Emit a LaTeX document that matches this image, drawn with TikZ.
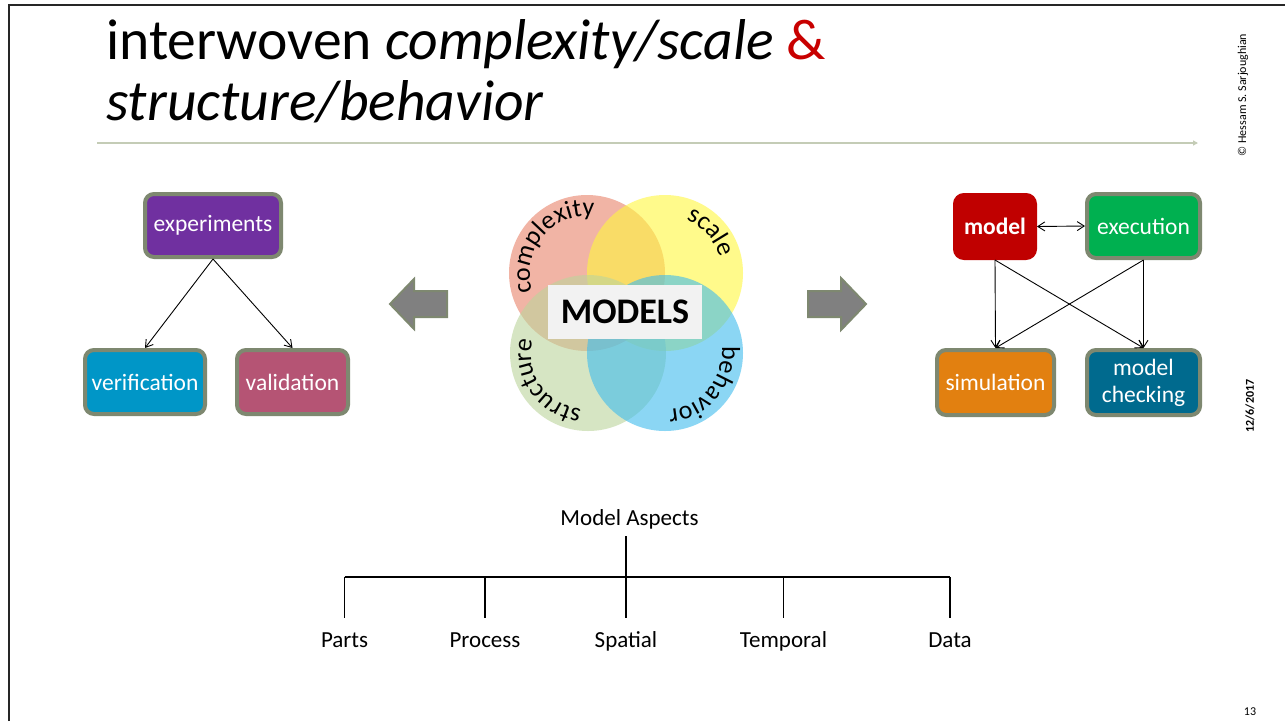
\documentclass[tikz,border=0pt]{standalone}
\usepackage{fontspec}
\setmainfont{Carlito}
\usetikzlibrary{arrows.meta,decorations.text,calc}
\definecolor{bordc}{RGB}{126,136,112}
\definecolor{ampred}{RGB}{200,0,0}
\definecolor{expc}{RGB}{112,48,160}
\definecolor{verc}{RGB}{0,150,199}
\definecolor{valc}{RGB}{181,84,116}
\definecolor{modc}{RGB}{192,0,0}
\definecolor{exec}{RGB}{0,176,80}
\definecolor{simc}{RGB}{226,128,16}
\definecolor{mcc}{RGB}{0,106,142}
\definecolor{blockc}{RGB}{128,128,128}
\definecolor{rulec}{RGB}{196,204,182}
\definecolor{vred}{RGB}{233,130,105}
\definecolor{vyel}{RGB}{255,247,63}
\definecolor{vgrn}{RGB}{188,213,155}
\definecolor{vblu}{RGB}{63,188,238}
\definecolor{boxgray}{RGB}{242,242,242}
\newcommand\vennfont{\fontsize{26}{26}\selectfont}
\begin{document}
\begin{tikzpicture}[x=1pt,y=-1pt,
  box/.style={draw=bordc, line width=4pt, rounded corners=9pt, text=white,
    font=\fontsize{23.5}{27}\selectfont, inner sep=0pt, align=center},
  conn/.style={line width=0.9pt, -{Straight Barb[length=7pt,width=9pt]}},
  dconn/.style={line width=0.9pt, {Straight Barb[length=7pt,width=9pt]}-{Straight Barb[length=7pt,width=9pt]}},
  venn/.style={circle, minimum size=156pt, inner sep=0pt, fill opacity=0.6},
  block/.style={fill=blockc, draw=bordc, line width=2pt, line join=miter},
  aspect/.style={anchor=base, font=\fontsize{23}{23}\selectfont, text height=16pt, text depth=5pt, inner xsep=2pt, inner ysep=13pt},
  tree/.style={line width=1.5pt, black},
  arctext/.style={decorate, decoration={text along path, text={|\vennfont|#1}, text align=center}}]
\useasboundingbox (0,0) rectangle (1285,721);
\fill[white] (0,0) rectangle (1285,721);
% frame
\coordinate (fa) at (9,721);
\coordinate (fb) at (9,5);
\coordinate (fc) at (1285,5);
\draw[line width=2.5pt, black!85] (fa) -- (fb) -- (fc);
% title
\node[anchor=base west, inner sep=0pt, font=\fontsize{57.6}{60}\selectfont] (t1) at (106,59)
  {interwoven \textit{complexity/scale} \textcolor{ampred}{\&}};
\node[anchor=base west, inner sep=0pt, font=\fontsize{57.6}{60}\selectfont] (t2) at (106,120)
  {\textit{structure/behavior}};
\coordinate (r1) at (97,143);
\coordinate (r2) at (1198,143);
\draw[rulec, line width=2pt, -{Triangle[length=5pt,width=5pt]}] (r1) -- (r2);
% side texts
\node[rotate=90, font=\fontsize{12}{12}\selectfont] (copy) at (1243,95) {© Hessam S. Sarjoughian};
\node[rotate=90, font=\fontsize{12}{12}\selectfont\bfseries] (date) at (1250,406) {12/6/2017};
\node[font=\fontsize{12}{12}\selectfont] (pnum) at (1250,712) {13};
% left group
\node[box, fill=expc, minimum width=136pt, minimum height=63pt] (exp) at (213,225.5) {experiments};
\node[box, fill=verc, minimum width=120pt, minimum height=64pt] (ver) at (145,382) {verification};
\node[box, fill=valc, minimum width=111pt, minimum height=64pt] (val) at (292.5,382) {validation};
\draw[conn] (exp.south) -- (ver.north);
\draw[conn] (exp.south) -- (val.north);
% block arrows
\filldraw[block] (390,304) -- (414,279) -- (414,291) -- (447,291) -- (447,317) -- (414,317) -- (414,329) -- cycle;
\filldraw[block] (866,304) -- (841,278) -- (841,291) -- (808,291) -- (808,317) -- (841,317) -- (841,330) -- cycle;
% venn
\node[venn, fill=vred] (cC) at (587,273) {};
\node[venn, fill=vyel] (cS) at (665,273) {};
\node[venn, fill=vgrn] (cT) at (588,353) {};
\node[venn, fill=vblu] (cB) at (665,353) {};
\path[arctext=complexity] (cC.center) ++(149:57) arc[start angle=149, end angle=289, radius=57];
\path[arctext=scale] (cS.center) ++(248:57) arc[start angle=248, end angle=388, radius=57];
\path[arctext=behavior] (cB.center) ++(-30:57) arc[start angle=-30, end angle=110, radius=57];
\path[arctext=structure] (cT.center) ++(75:57) arc[start angle=75, end angle=215, radius=57];
\node[fill=boxgray, minimum width=154pt, minimum height=54pt, inner sep=0pt,
  font=\fontsize{36}{36}\selectfont\bfseries] (models) at (625,312) {MODELS};
% right group
\node[box, draw=modc, fill=modc, minimum width=80pt, minimum height=63pt, font=\fontsize{23.5}{27}\selectfont\bfseries] (model) at (995,226.5) {model};
\node[box, fill=exec, minimum width=113pt, minimum height=64pt] (exe) at (1143.5,226) {execution};
\node[box, fill=simc, minimum width=117pt, minimum height=65pt] (sim) at (995.5,382.5) {simulation};
\node[box, fill=mcc, minimum width=113pt, minimum height=65pt] (mc) at (1143.5,382.5) {model\\checking};
\draw[dconn] (model.east) -- (exe.west);
\draw[conn] (model.south) -- (sim.north);
\draw[conn] (model.south) -- (mc.north);
\draw[conn] (exe.south) -- (sim.north);
\draw[conn] (exe.south) -- (mc.north);
% tree
\node[anchor=base, font=\fontsize{23}{23}\selectfont, text depth=5pt, inner ysep=6pt] (ma) at (629.5,525) {Model Aspects};
\coordinate (hj) at (626,577);
\coordinate (hl) at (344.6,577);
\coordinate (hr) at (950,577);
\node[aspect] (parts) at (344.6,647) {Parts};
\node[aspect] (proc) at (485,647) {Process};
\node[aspect] (spat) at (626,647) {Spatial};
\node[aspect] (temp) at (783.5,647) {Temporal};
\node[aspect] (data) at (950,647) {Data};
\draw[tree] (hj |- ma.south) -- (hj);
\draw[tree] (hl) -- (hr);
\draw[tree] (parts.north |- hl) -- (parts.north);
\draw[tree] (proc.north |- hl) -- (proc.north);
\draw[tree] (spat.north |- hl) -- (spat.north);
\draw[tree] (temp.north |- hl) -- (temp.north);
\draw[tree] (data.north |- hl) -- (data.north);
\end{tikzpicture}
\end{document}
